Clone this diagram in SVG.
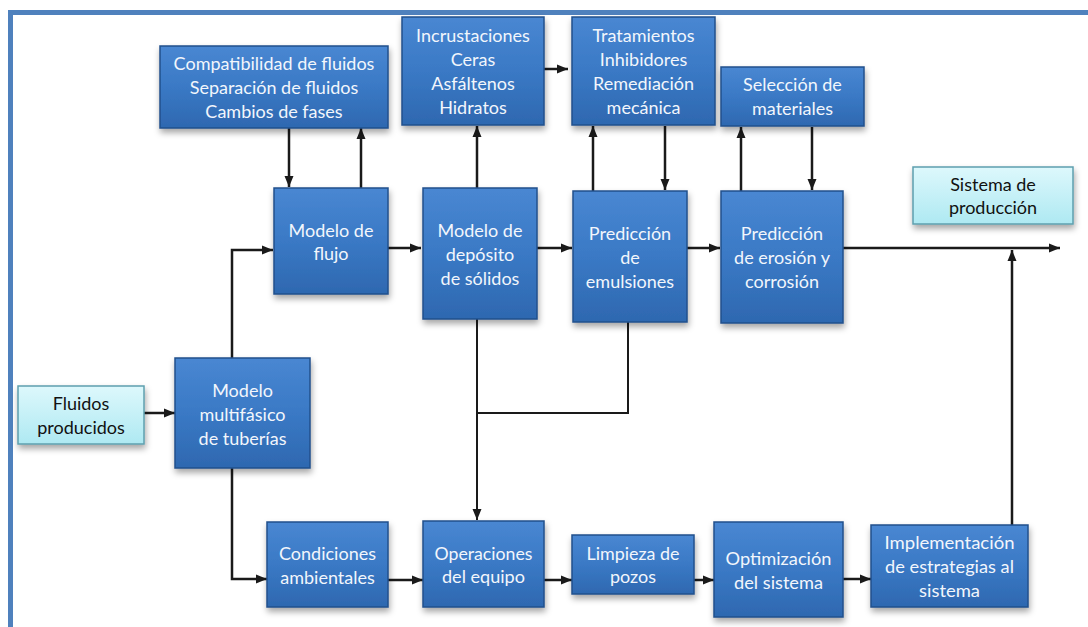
<svg xmlns="http://www.w3.org/2000/svg" width="1088" height="627" viewBox="0 0 1088 627">
<defs>
<linearGradient id="gBlue" x1="0" y1="0" x2="0" y2="1">
<stop offset="0" stop-color="#4987D2"/>
<stop offset="0.5" stop-color="#3A79C5"/>
<stop offset="1" stop-color="#2E68B0"/>
</linearGradient>
<linearGradient id="gCyan" x1="0" y1="0" x2="0" y2="1">
<stop offset="0" stop-color="#DDF8FC"/>
<stop offset="1" stop-color="#AEE9F2"/>
</linearGradient>
<filter id="sh" x="-10%" y="-10%" width="125%" height="130%">
<feDropShadow dx="1" dy="4" stdDeviation="3" flood-color="#000" flood-opacity="0.35"/>
</filter>
<marker id="ah" markerUnits="userSpaceOnUse" markerWidth="12" markerHeight="10" refX="11" refY="5" orient="auto">
<path d="M0,0.5 L11,5 L0,9.5 z" fill="#1a1a1a"/>
</marker>
</defs>
<style>
.b{fill:url(#gBlue);stroke:#22508C;stroke-width:1.5;filter:url(#sh)}
.c{fill:url(#gCyan);stroke:#5E9FAE;stroke-width:1.5;filter:url(#sh)}
.t{font-family:Lato,"Open Sans","Liberation Sans",sans-serif;font-size:18px;fill:#F2F6FC;text-anchor:middle}
.k{font-family:Lato,"Open Sans","Liberation Sans",sans-serif;font-size:18px;fill:#111;text-anchor:middle}
.n{font-family:Lato,"Open Sans","Liberation Sans",sans-serif;font-size:18px;fill:#F2F6FC;text-anchor:middle}
.a{fill:none;stroke:#1a1a1a;stroke-width:2.5;marker-end:url(#ah)}
.l{fill:none;stroke:#1a1a1a;stroke-width:2}
</style>
<rect x="0" y="0" width="1088" height="627" fill="#fff"/>
<rect x="10.5" y="12.5" width="1100" height="640" fill="none" stroke="#4F81BD" stroke-width="5"/>

<g id="connectors">
<path class="a" d="M144,413 H175"/>
<path class="a" d="M232,358 V250 H273"/>
<path class="a" d="M232,468 V579 H267"/>
<path class="a" d="M289,128 V187"/>
<path class="a" d="M361,188 V128"/>
<path class="a" d="M388,248 H421"/>
<path class="a" d="M477,188 V126"/>
<path class="a" d="M544,69 H568"/>
<path class="a" d="M537,248 H572"/>
<path class="a" d="M593,191 V126"/>
<path class="a" d="M665,126 V190"/>
<path class="a" d="M687,248 H720"/>
<path class="a" d="M741,191 V127"/>
<path class="a" d="M812,127 V190"/>
<path class="a" d="M843,248 H1060"/>
<path class="a" d="M1012,525 V250"/>
<path class="a" style="stroke-width:2" d="M477,319 V520"/>
<path class="l" d="M628,322 V413 H477"/>
<path class="a" d="M388,580 H423"/>
<path class="a" d="M544,580 H572"/>
<path class="a" d="M694,580 H714"/>
<path class="a" d="M843,579 H871"/>
</g>

<g id="n-compat">
<rect class="b" x="160" y="46" width="228" height="82"/>
<text class="t" x="274" y="70">Compatibilidad de fluidos</text>
<text class="t" x="274" y="94">Separación de fluidos</text>
<text class="t" x="274" y="118">Cambios de fases</text>
</g>
<g id="n-incrust">
<rect class="b" x="402" y="17" width="142" height="108"/>
<text class="t" x="473" y="42">Incrustaciones</text>
<text class="t" x="473" y="66">Ceras</text>
<text class="t" x="473" y="90">Asfáltenos</text>
<text class="t" x="473" y="114">Hidratos</text>
</g>
<g id="n-trat">
<rect class="b" x="572" y="17" width="143" height="108"/>
<text class="t" x="643.5" y="42">Tratamientos</text>
<text class="t" x="643.5" y="66">Inhibidores</text>
<text class="t" x="643.5" y="90">Remediación</text>
<text class="t" x="643.5" y="114">mecánica</text>
</g>
<g id="n-selec">
<rect class="b" x="721" y="67" width="143" height="59"/>
<text class="t" x="792.5" y="91">Selección de</text>
<text class="t" x="792.5" y="115">materiales</text>
</g>
<g id="n-sistema">
<rect class="c" x="913" y="167" width="160" height="57"/>
<text class="k" x="993" y="191">Sistema de</text>
<text class="k" x="993" y="214">producción</text>
</g>
<g id="n-flujo">
<rect class="b" x="274" y="188" width="114" height="106"/>
<text class="t" x="331" y="237">Modelo de</text>
<text class="t" x="331" y="260">flujo</text>
</g>
<g id="n-deposito">
<rect class="b" x="423" y="188" width="114" height="131"/>
<text class="t" x="480" y="237">Modelo de</text>
<text class="t" x="480" y="261">depósito</text>
<text class="t" x="480" y="285">de sólidos</text>
</g>
<g id="n-emulsiones">
<rect class="b" x="573" y="191" width="114" height="131"/>
<text class="t" x="630" y="240">Predicción</text>
<text class="t" x="630" y="264">de</text>
<text class="t" x="630" y="288">emulsiones</text>
</g>
<g id="n-erosion">
<rect class="b" x="721" y="191" width="122" height="132"/>
<text class="t" x="782" y="240">Predicción</text>
<text class="t" x="782" y="264">de erosión y</text>
<text class="t" x="782" y="288">corrosión</text>
</g>
<g id="n-fluidos">
<rect class="c" x="18" y="386" width="126" height="58"/>
<text class="k" x="81" y="410">Fluidos</text>
<text class="k" x="81" y="434">producidos</text>
</g>
<g id="n-multifasico">
<rect class="b" x="175" y="358" width="135" height="110"/>
<text class="t" x="242.5" y="397">Modelo</text>
<text class="t" x="242.5" y="421">multifásico</text>
<text class="t" x="242.5" y="445">de tuberías</text>
</g>
<g id="n-condiciones">
<rect class="b" x="267" y="522" width="121" height="85"/>
<text class="t" x="327.5" y="560">Condiciones</text>
<text class="t" x="327.5" y="584">ambientales</text>
</g>
<g id="n-operaciones">
<rect class="b" x="423" y="521" width="121" height="86"/>
<text class="n" x="483.5" y="560" textLength="98" lengthAdjust="spacingAndGlyphs">Operaciones</text>
<text class="n" x="483.5" y="583" textLength="83" lengthAdjust="spacingAndGlyphs">del equipo</text>
</g>
<g id="n-limpieza">
<rect class="b" x="572" y="535" width="122" height="59"/>
<text class="n" x="633" y="560" textLength="93" lengthAdjust="spacingAndGlyphs">Limpieza de</text>
<text class="n" x="633" y="583" textLength="46" lengthAdjust="spacingAndGlyphs">pozos</text>
</g>
<g id="n-optimizacion">
<rect class="b" x="714" y="522" width="129" height="95"/>
<text class="n" x="778.5" y="565" textLength="106" lengthAdjust="spacingAndGlyphs">Optimización</text>
<text class="n" x="778.5" y="589" textLength="89" lengthAdjust="spacingAndGlyphs">del sistema</text>
</g>
<g id="n-implementacion">
<rect class="b" x="871" y="525" width="157" height="82"/>
<text class="n" x="949.5" y="549" textLength="130" lengthAdjust="spacingAndGlyphs">Implementación</text>
<text class="n" x="949.5" y="573" textLength="129" lengthAdjust="spacingAndGlyphs">de estrategias al</text>
<text class="n" x="949.5" y="597" textLength="61" lengthAdjust="spacingAndGlyphs">sistema</text>
</g>
</svg>
